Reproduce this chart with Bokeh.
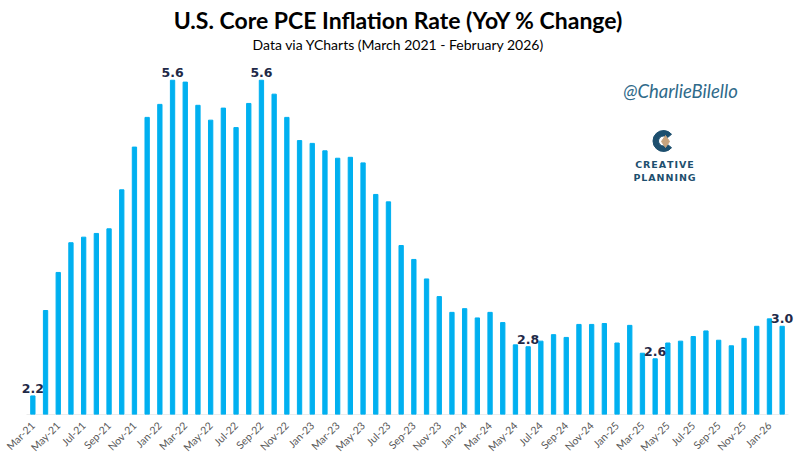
import math
from bokeh.plotting import figure
from bokeh.models import Range1d, FixedTicker, ColumnDataSource, Label, LabelSet
from bokeh.core.properties import value
from bokeh.embed import file_html
from bokeh.resources import INLINE

# ---------------- data ----------------
months = [
    "Mar-21", "Apr-21", "May-21", "Jun-21", "Jul-21", "Aug-21", "Sep-21", "Oct-21", "Nov-21", "Dec-21",
    "Jan-22", "Feb-22", "Mar-22", "Apr-22", "May-22", "Jun-22", "Jul-22", "Aug-22", "Sep-22", "Oct-22",
    "Nov-22", "Dec-22", "Jan-23", "Feb-23", "Mar-23", "Apr-23", "May-23", "Jun-23", "Jul-23", "Aug-23",
    "Sep-23", "Oct-23", "Nov-23", "Dec-23", "Jan-24", "Feb-24", "Mar-24", "Apr-24", "May-24", "Jun-24",
    "Jul-24", "Aug-24", "Sep-24", "Oct-24", "Nov-24", "Dec-24", "Jan-25", "Feb-25", "Mar-25", "Apr-25",
    "May-25", "Jun-25", "Jul-25", "Aug-25", "Sep-25", "Oct-25", "Nov-25", "Dec-25", "Jan-26", "Feb-26",
]
core_pce = [
    2.20, 3.12, 3.53, 3.85, 3.91, 3.95, 4.00, 4.42, 4.88, 5.20, 5.34, 5.60,
    5.58, 5.33, 5.17, 5.30, 5.09, 5.35, 5.60, 5.45, 5.20, 4.95, 4.92, 4.84,
    4.76, 4.77, 4.71, 4.37, 4.29, 3.82, 3.67, 3.46, 3.27, 3.10, 3.14, 3.04,
    3.10, 2.99, 2.75, 2.73, 2.79, 2.86, 2.83, 2.97, 2.97, 2.98, 2.77, 2.96,
    2.66, 2.60, 2.77, 2.79, 2.84, 2.90, 2.80, 2.74, 2.82, 2.95, 3.03, 2.95,
]
label_months = ["Mar-21", "Feb-22", "Sep-22", "Jun-24", "Apr-25", "Feb-26"]
label_texts = ["2.2", "5.6", "5.6", "2.8", "2.6", "3.0"]
tick_months = months[::2]

title_text = "U.S. Core PCE Inflation Rate (YoY % Change)"
subtitle_text = "Data via YCharts (March 2021 - February 2026)"
handle_text = "@CharlieBilello"

# ---------------- layout helpers ----------------
W, H = 800, 461
LEFT, RIGHT, TOP, BOTTOM = 8, 4, 0, 47
AXIS_L, AXIS_R = 26, 788          # pixel extent of the category band
Y0 = 2.0
FRAME_W = W - LEFT - RIGHT
FRAME_H = H - TOP - BOTTOM
PX_PER_UNIT = 92.85
Y1 = Y0 + FRAME_H / PX_PER_UNIT
N = len(months)
STEP = (AXIS_R - AXIS_L) / N
X0 = -0.5 - (AXIS_L - LEFT) / STEP
X1 = N - 0.5 + (W - RIGHT - AXIS_R) / STEP


def dx(page_x):
    return X0 + (page_x - LEFT) / FRAME_W * (X1 - X0)


def dy(page_y):
    return Y0 + (FRAME_H - (page_y - TOP)) / FRAME_H * (Y1 - Y0)


idx = list(range(N))
src = ColumnDataSource(dict(x=idx, top=core_pce, m=months))

p = figure(width=W, height=H, output_backend="svg", toolbar_location=None,
           x_range=Range1d(X0, X1), y_range=Range1d(Y0, Y1),
           y_axis_location=None,
           min_border_left=LEFT, min_border_right=RIGHT,
           min_border_top=TOP, min_border_bottom=BOTTOM)
p.background_fill_color = "white"
p.border_fill_color = "white"
p.outline_line_color = None
p.grid.visible = False

# category baseline (axis line over the category band only)
p.segment(x0=[-0.5], y0=[Y0], x1=[N - 0.5], y1=[Y0], line_color="#D9D9D9", line_width=1.2)

p.vbar(x="x", top="top", bottom=Y0, width=0.34, color="#00B0F0", source=src)

# value labels
lab_idx = [months.index(m) for m in label_months]
lab_src = ColumnDataSource(dict(x=lab_idx, y=[core_pce[i] for i in lab_idx], t=label_texts))
p.add_layout(LabelSet(x="x", y="y", text="t", source=lab_src, text_font=value("DejaVu Sans"),
                      text_font_style="bold", text_font_size="12.5px", text_color="#1F2A48",
                      text_align="center", text_baseline="bottom", y_offset=3))

# x axis
ax = p.xaxis[0]
ax.ticker = FixedTicker(ticks=[months.index(m) for m in tick_months])
ax.major_label_overrides = {months.index(m): m for m in tick_months}
ax.major_label_orientation = math.pi / 4
ax.major_tick_line_color = None
ax.minor_tick_line_color = None
ax.axis_line_color = None
ax.major_label_text_font = "Lato"
ax.major_label_text_font_size = "10.5px"
ax.major_label_text_color = "#595959"
ax.major_label_standoff = 3

# titles
p.add_layout(Label(x=dx(398), y=dy(19), text=title_text, text_font="Lato",
                   text_font_style="bold", text_font_size="23px", text_color="#000000",
                   text_align="center", text_baseline="middle"))
p.add_layout(Label(x=dx(398), y=dy(44), text=subtitle_text, text_font="Lato",
                   text_font_size="14px", text_color="#000000",
                   text_align="center", text_baseline="middle"))

# watermark / logo
p.add_layout(Label(x=dx(680), y=dy(90), text=handle_text, text_font="Lato",
                   text_font_style="italic", text_font_size="18.5px", text_color="#2F6A8A",
                   text_align="center", text_baseline="middle"))
p.annular_wedge(x=[dx(663)], y=[dy(140.5)], inner_radius=5, outer_radius=10.5,
                inner_radius_units="screen", outer_radius_units="screen",
                start_angle=math.radians(40), end_angle=math.radians(320),
                color="#1D4F6E")
p.scatter(x=[dx(665)], y=[dy(141)], marker="diamond", size=12, color="#C8A47E")
p.add_layout(Label(x=dx(664), y=dy(163.5), text="C\u200aR\u200aE\u200aA\u200aT\u200aI\u200aV\u200aE",
                   text_font="DejaVu Sans", text_font_style="bold", text_font_size="9.5px",
                   text_color="#1D4F6E", text_align="center", text_baseline="middle"))
p.add_layout(Label(x=dx(664), y=dy(176.5), text="P\u200aL\u200aA\u200aN\u200aN\u200aI\u200aN\u200aG",
                   text_font="DejaVu Sans", text_font_style="bold", text_font_size="9.5px",
                   text_color="#1D4F6E", text_align="center", text_baseline="middle"))

open("out.html", "w").write(file_html(p, INLINE))
